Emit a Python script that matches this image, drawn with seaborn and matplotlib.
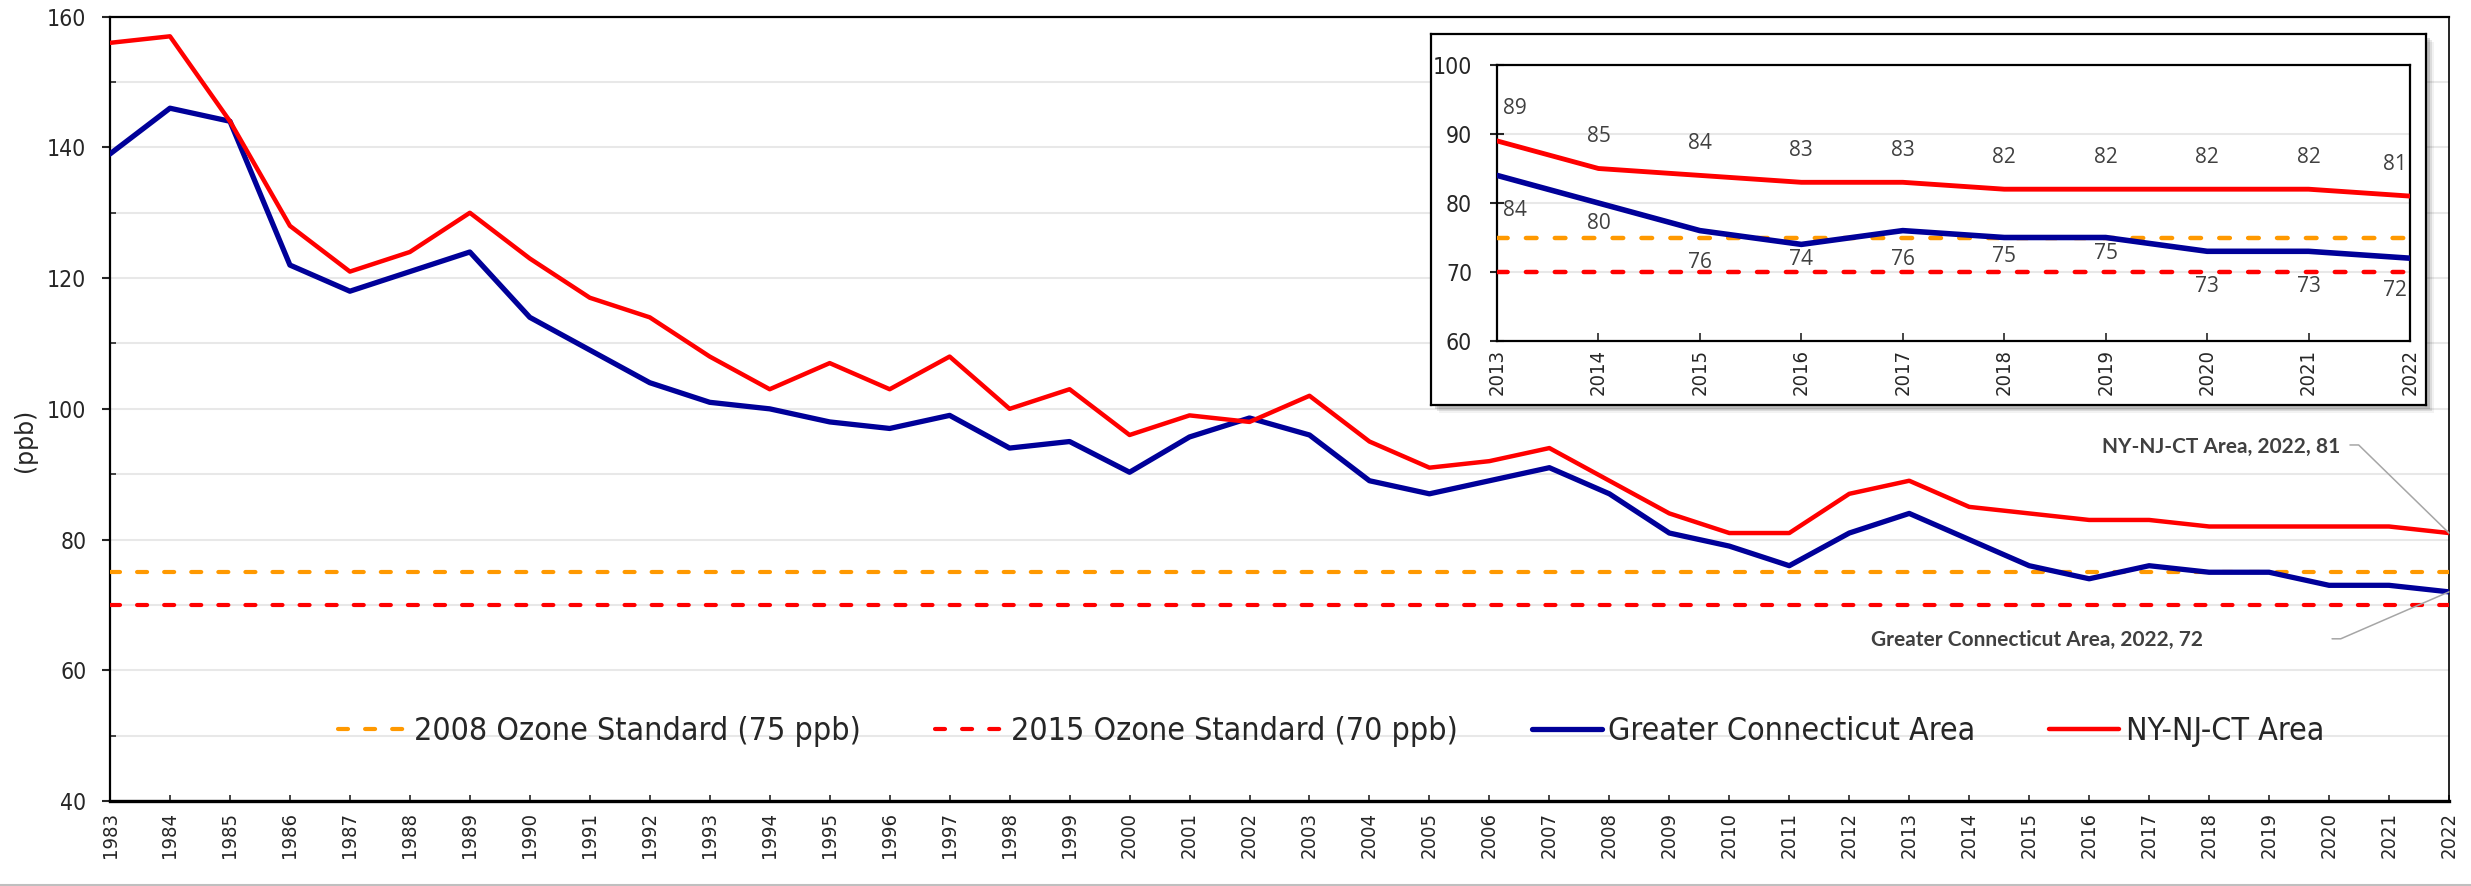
import numpy as np
import pandas as pd
import matplotlib
matplotlib.use("Agg")
import matplotlib.pyplot as plt
import seaborn as sns
from matplotlib import font_manager as fm
from matplotlib.patches import Rectangle
from matplotlib.lines import Line2D
from matplotlib.ticker import MultipleLocator

# ---- data ----
years = list(range(1983, 2023))
ct_area = [139, 146, 144, 122, 118, 121, 124, 114, 109, 104,
           101, 100, 98, 97, 99, 94, 95, 90.3, 95.7, 98.6,
           96, 89, 87, 89, 91, 87, 81, 79, 76, 81,
           84, 80, 76, 74, 76, 75, 75, 73, 73, 72]
ny_area = [156, 157, 144, 128, 121, 124, 130, 123, 117, 114,
           108, 103, 107, 103, 108, 100, 103, 96, 99, 98,
           102, 95, 91, 92, 94, 89, 84, 81, 81, 87,
           89, 85, 84, 83, 83, 82, 82, 82, 82, 81]
std_2008 = 75
std_2015 = 70
inset_years = years[-10:]
ct_inset = ct_area[-10:]
ny_inset = ny_area[-10:]

labels = ["2008 Ozone Standard (75 ppb)", "2015 Ozone Standard (70 ppb)",
          "Greater Connecticut Area", "NY-NJ-CT Area"]

# label placement in the inset (points below the CT line)
ct_label_dy = [-25, -15, -23, -11, -21, -13.5, -11.5, -25, -25, -23]

ORANGE = "#FF9900"
RED = "#FF0000"
BLUE = "#000099"
GRID = "#E8E8E8"
DASH = (2.4, 4.1)

sns.set_style("white")
plt.rcParams['font.family'] = ['DejaVu Sans']

avail = {f.name for f in fm.fontManager.ttflist}
NARROW = dict(family='DejaVu Sans', stretch='condensed')
LABEL_FAM = 'Open Sans' if 'Open Sans' in avail else 'DejaVu Sans'
ANN_FAM = 'Lato' if 'Lato' in avail else 'DejaVu Sans'

W, H = 2471, 886
fig = plt.figure(figsize=(W / 100, H / 100), dpi=100)


def fx(px):
    return px / W


def fy(py):
    return 1 - py / H


def rect(x0, y0, x1, y1):
    return [fx(x0), fy(y1), fx(x1) - fx(x0), fy(y0) - fy(y1)]


# ---- main chart ----
ax = fig.add_axes(rect(110, 16.7, 2449, 801))
ax.axhline(std_2008, color=ORANGE, lw=3, dashes=DASH, dash_capstyle='round',
           label=labels[0], zorder=3)
ax.axhline(std_2015, color=RED, lw=3, dashes=DASH, dash_capstyle='round',
           label=labels[1], zorder=3)
sns.lineplot(x=years, y=ct_area, color=BLUE, lw=3.8, label=labels[2], ax=ax, zorder=4)
sns.lineplot(x=years, y=ny_area, color=RED, lw=3.2, label=labels[3], ax=ax, zorder=5)

ax.set_xlim(1983, 2022)
ax.set_ylim(40, 160)
ax.set_xticks(years)
ax.set_xticklabels([str(y) for y in years], rotation=90,
                   fontproperties=fm.FontProperties(size=14.5, **NARROW))
ax.yaxis.set_major_locator(MultipleLocator(20))
ax.yaxis.set_minor_locator(MultipleLocator(10))
ax.grid(which='both', axis='y', color=GRID, lw=1.5)
ax.grid(axis='x', visible=False)
ax.set_axisbelow(True)
ax.tick_params(axis='y', which='major', direction='out', length=6, width=1.5, pad=11, left=True)
ax.tick_params(axis='y', which='minor', direction='in', length=4, width=1.2, left=True)
ax.tick_params(axis='x', direction='in', length=4.5, width=1.2, pad=8, bottom=True)
for lab in ax.get_yticklabels():
    lab.set_fontproperties(fm.FontProperties(size=16.5, **NARROW))
for name, sp in ax.spines.items():
    sp.set_color('black')
    sp.set_linewidth(1.6)
ax.spines['bottom'].set_linewidth(2.4)
ax.spines['right'].set_linewidth(1.2)

ax.set_ylabel("")
fig.text(fx(25), fy(440), "(ppb)", rotation=90, ha='center', va='center', fontsize=17)

ax.legend(loc='center', bbox_to_anchor=(0.522, 0.088), ncol=4, frameon=False,
          prop=fm.FontProperties(size=23, **NARROW), handlelength=2.2,
          handletextpad=0.2, columnspacing=2.3)

# callouts for the 2022 values
ann_font = fm.FontProperties(family=ANN_FAM, size=15, weight='bold')
lead = dict(arrowstyle='-', color='#A6A6A6', lw=1.1, shrinkA=0, shrinkB=0,
            connectionstyle='arc,angleA=0,angleB=0,armA=8.7,armB=0,rad=0')
ax.annotate("", xy=(years[-1], ny_area[-1]), xytext=(-71.3, 63.4),
            textcoords='offset points', arrowprops=lead, zorder=6)
ax.annotate(f"{labels[3]}, {years[-1]}, {ny_area[-1]}", xy=(years[-1], ny_area[-1]),
            xytext=(-78.5, 61.9), textcoords='offset points', ha='right', va='center',
            color='#404040', fontproperties=ann_font, zorder=6)
ax.annotate("", xy=(years[-1], ct_area[-1]), xytext=(-84.2, -33.8),
            textcoords='offset points', arrowprops=lead, zorder=6)
ax.annotate(f"{labels[2]}, {years[-1]}, {ct_area[-1]}", xy=(years[-1], ct_area[-1]),
            xytext=(-177, -34.6), textcoords='offset points', ha='right', va='center',
            color='#404040', fontproperties=ann_font, zorder=6)

# ---- inset box with shadow ----
bx0, by0, bx1, by1 = 1431, 34, 2426, 405
for off, alpha in [(8, 0.05), (6, 0.09), (4, 0.14)]:
    fig.add_artist(Rectangle((fx(bx0 + off), fy(by1 + off)), fx(bx1) - fx(bx0), fy(by0) - fy(by1),
                             transform=fig.transFigure, facecolor='black', edgecolor='none',
                             alpha=alpha, zorder=4))
box = fig.add_axes(rect(bx0, by0, bx1, by1), zorder=5)
box.set_facecolor('white')
box.set_xticks([])
box.set_yticks([])
for sp in box.spines.values():
    sp.set_color('black')
    sp.set_linewidth(1.6)

ins = fig.add_axes(rect(1497, 65, 2410, 341), zorder=6)
ins.set_facecolor('white')
ins.axhline(std_2008, color=ORANGE, lw=3.2, dashes=DASH, dash_capstyle='round', zorder=3)
ins.axhline(std_2015, color=RED, lw=3.2, dashes=DASH, dash_capstyle='round', zorder=3)
sns.lineplot(x=inset_years, y=ct_inset, color=BLUE, lw=4, ax=ins, zorder=4)
sns.lineplot(x=inset_years, y=ny_inset, color=RED, lw=3.5, ax=ins, zorder=5)
ins.set_xlim(2013, 2022)
ins.set_ylim(60, 100)
ins.set_xticks(inset_years)
ins.set_xticklabels([str(y) for y in inset_years], rotation=90,
                    fontproperties=fm.FontProperties(size=14.5, **NARROW))
ins.yaxis.set_major_locator(MultipleLocator(10))
ins.grid(axis='y', color=GRID, lw=1.5)
ins.grid(axis='x', visible=False)
ins.set_axisbelow(True)
ins.tick_params(axis='y', direction='inout', length=10, width=1.5, pad=13, left=True)
ins.tick_params(axis='x', direction='in', length=5.5, width=1.2, pad=6, bottom=True)
for lab in ins.get_yticklabels():
    lab.set_fontproperties(fm.FontProperties(size=16.5, **NARROW))
for sp in ins.spines.values():
    sp.set_color('black')
    sp.set_linewidth(1.6)

lab_font = fm.FontProperties(family=LABEL_FAM, size=15)
last = len(inset_years) - 1
for i, (yr, vn, vc) in enumerate(zip(inset_years, ny_inset, ct_inset)):
    ha = 'left' if i == 0 else ('right' if i == last else 'center')
    dx = 4.3 if i == 0 else (-2 if i == last else 0)
    ins.annotate(str(vn), (yr, vn), xytext=(dx, 23), textcoords='offset points',
                 ha=ha, va='center', color='#404040', fontproperties=lab_font)
    ins.annotate(str(vc), (yr, vc), xytext=(dx, ct_label_dy[i]), textcoords='offset points',
                 ha=ha, va='center', color='#404040', fontproperties=lab_font)

fig.add_artist(Line2D([0, 1], [fy(884.5), fy(884.5)], color='#BFBFBF', lw=1.5,
                      transform=fig.transFigure))

fig.savefig("out.png", dpi=100)
